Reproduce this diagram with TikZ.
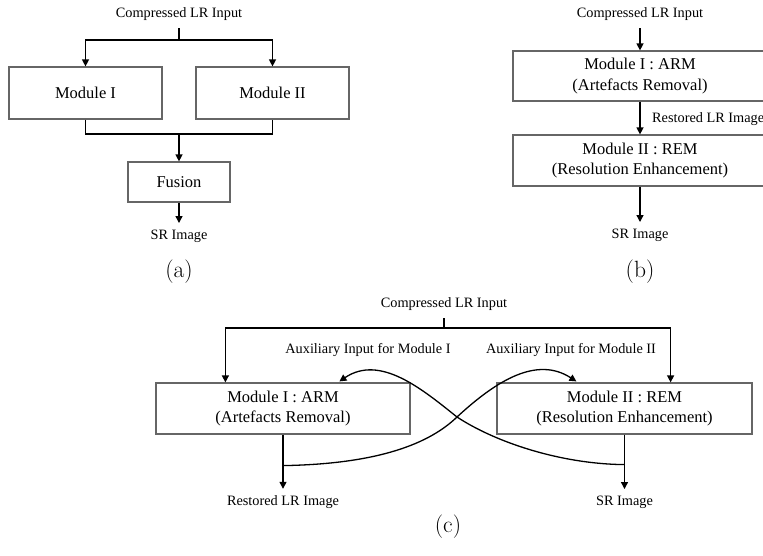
\documentclass[tikz,border=0pt]{standalone}
\usepackage{fontspec}
\newfontfamily\tnr{Liberation Serif}
\usetikzlibrary{arrows.meta,calc}
\begin{document}
\begin{tikzpicture}[x=1pt,y=-1pt,
  lbl/.style={font=\tnr\fontsize{14.3}{17}\selectfont, inner xsep=1pt, inner ysep=7pt},
  box/.style={draw=black!60, line width=1.2pt, inner sep=0pt, align=center,
    font=\tnr\fontsize{16.5}{20.5}\selectfont},
  captxt/.style={font=\fontsize{23.5}{28}\selectfont, inner sep=0pt},
  conn/.style={draw=black, line width=1.3pt},
  arr/.style={conn, -{Triangle[length=7pt,width=7pt]}}]
\useasboundingbox (0,0) rectangle (763,556);

% ---------- (a) ----------
\node[lbl] (ina) at (179,14.5) {Compressed LR Input};
\coordinate (sa) at (179,40);
\node[box, minimum width=153pt, minimum height=52pt] (m1a) at (85.5,93) {Module I};
\node[box, minimum width=153pt, minimum height=52pt] (m2a) at (272.5,93) {Module II};
\coordinate (ma) at (179,134);
\node[box, minimum width=102pt, minimum height=40pt] (fa) at (179,182) {Fusion};
\node[lbl] (sra) at (179,236.5) {SR Image};
\node[captxt] (capa) at (179,272) {(a)};
\draw[conn] (ina.south) -- (sa);
\draw[arr] (sa) -| (m1a.north);
\draw[arr] (sa) -| (m2a.north);
\draw[conn] (m1a.south) |- (ma) -| (m2a.south);
\draw[arr] (ma) -- (fa.north);
\draw[arr] (fa.south) -- (sra.north);

% ---------- (b) ----------
\node[lbl] (inb) at (640,14.5) {Compressed LR Input};
\node[box, minimum width=254pt, minimum height=50pt] (armb) at (640,76)
  {Module I : ARM\\(Artefacts Removal)};
\node[box, minimum width=254pt, minimum height=51pt] (remb) at (640,160.5)
  {Module II : REM\\(Resolution Enhancement)};
\node[lbl, anchor=west] (rlrb) at (651,119.5) {Restored LR Image};
\node[lbl] (srb) at (640,235.5) {SR Image};
\node[captxt] (capb) at (640,272) {(b)};
\draw[arr] (inb.south) -- (armb.north);
\draw[arr] (armb.south) -- (remb.north);
\draw[arr] (remb.south) -- (srb.north);

% ---------- (c) ----------
\node[lbl] (inc) at (444,304.5) {Compressed LR Input};
\coordinate (jc) at (444,328);
\node[box, minimum width=254pt, minimum height=51pt] (armc) at (283,408.5)
  {Module I : ARM\\(Artefacts Removal)};
\node[box, minimum width=255pt, minimum height=51pt] (remc) at (624.5,408.5)
  {Module II : REM\\(Resolution Enhancement)};
\node[lbl] (aux1) at (368,350.5) {Auxiliary Input for Module I};
\node[lbl] (aux2) at (571,350.5) {Auxiliary Input for Module II};
\node[lbl] (rlrc) at (283,502.5) {Restored LR Image};
\node[lbl] (src) at (624.5,502.5) {SR Image};
\node[captxt] (capc) at (448,527) {(c)};

\coordinate (ta) at ($(armc.north west)+(70,0)$);
\coordinate (tb) at ($(remc.north east)+(-82,0)$);
\draw[conn] (inc.south) -- (jc);
\draw[arr] (jc) -| (ta);
\draw[arr] (jc) -| (tb);
\draw[arr] (armc.south) -- (rlrc.north);
\draw[arr] (remc.south) -- (src.north);

\coordinate (ja) at ($(armc.south)+(0,31)$);
\coordinate (jb) at ($(remc.south)+(0,30)$);
\coordinate (tipa) at ($(remc.north west)+(80,-1)$);
\coordinate (tipb) at ($(armc.north west)+(184,-1)$);
\coordinate (cross) at (457,417);
\draw[arr] (ja) .. controls (380,464) and (430,443) .. (cross)
  .. controls (497,380) and (537,356) .. (tipa);
\draw[arr] (jb) .. controls (560,464) and (495,442) .. (cross)
  .. controls (422,389) and (380,354) .. (tipb);
\end{tikzpicture}
\end{document}
